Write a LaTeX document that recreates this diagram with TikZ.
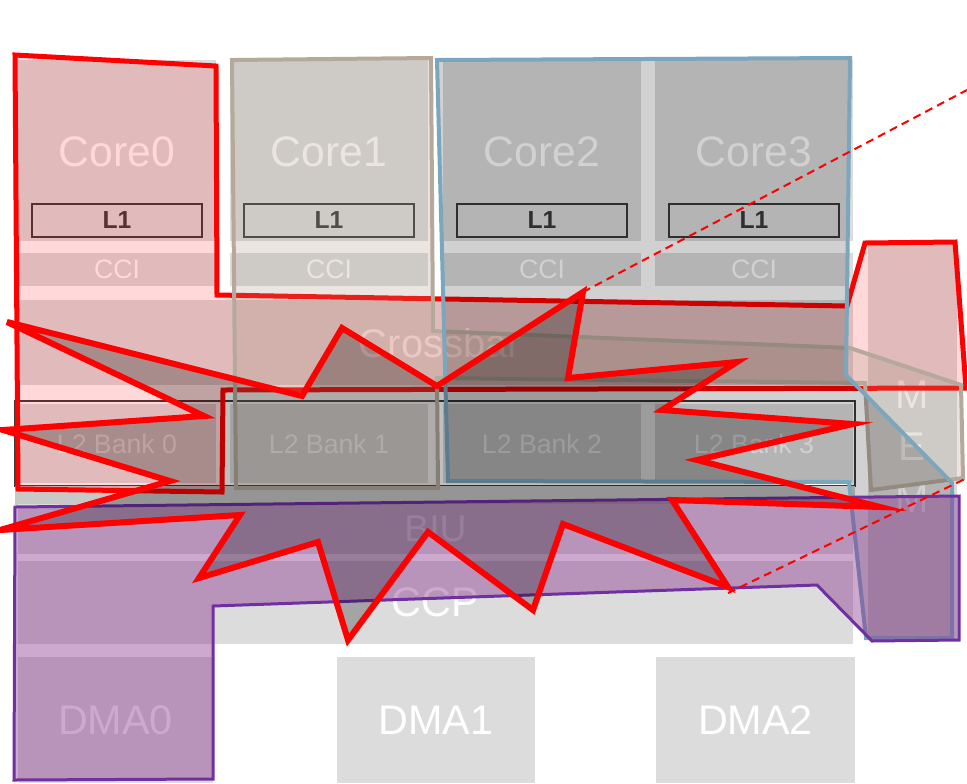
\documentclass[tikz,border=0pt]{standalone}
\usepackage{fontspec}
\setmainfont{Liberation Sans}
\definecolor{blkgray}{HTML}{DCDCDC}
\definecolor{bandgray}{HTML}{C8C8C8}
\definecolor{l1line}{HTML}{3A3A3A}
\definecolor{tanline}{HTML}{B5A99B}
\definecolor{tanfill}{RGB}{160,140,120}
\definecolor{blueline}{HTML}{7AA6BE}
\definecolor{purpline}{HTML}{7030A0}
\definecolor{purpfill}{RGB}{130,40,137}
\begin{document}
\begin{tikzpicture}[x=0.75pt,y=-0.75pt,
  blk/.style={fill=blkgray, draw=none, inner sep=0pt, text=white},
  size/.style n args={2}{minimum width=#1*0.75pt, minimum height=#2*0.75pt},
  coretxt/.style={text=white, inner sep=0pt, font=\fontsize{32}{36}\selectfont},
  l1box/.style={draw=l1line, line width=1.5pt, inner sep=0pt, text=l1line,
    size={170}{33}, font=\bfseries\fontsize{18.5}{20}\selectfont},
  ccitxt/.style={font=\fontsize{20}{24}\selectfont},
  banktxt/.style={font=\fontsize{20}{24}\selectfont},
  dmatxt/.style={font=\fontsize{31}{36}\selectfont},
  redzone/.style={draw=red, line width=3.75pt, fill=red, fill opacity=0.15},
  tanzone/.style={draw=tanline, line width=3pt, fill=tanfill, fill opacity=0.22},
  bluezone/.style={draw=blueline, line width=3pt, fill=black, fill opacity=0.18},
  purpzone/.style={draw=purpline, line width=2.25pt, fill=purpfill, fill opacity=0.4},
  burst/.style={draw=red, line width=4.5pt, fill=black, fill opacity=0.25},
  dashline/.style={draw=red, line width=1.5pt, dash pattern=on 6pt off 4pt}]

\fill[white] (0,0) rectangle (967,783);
\useasboundingbox (0,0) rectangle (967,783);

% cores with their L1 caches and coherence interfaces
\foreach \cx/\i in {117/0,329/1,542/2,754/3}{
  \node[blk, size={198}{181}] (core\i) at (\cx,150.5) {};
  \node[coretxt] (core\i t) at (\cx,152) {Core\i};
  \node[l1box] (l1c\i) at (\cx,220) {L1};
  \node[blk, ccitxt, size={198}{33}] (cci\i) at (\cx,269.5) {CCI};
}

% crossbar
\node[blk, size={835}{85}] (xbar) at (435.5,342.5) {};
\node[text=white, inner sep=0pt, font=\fontsize{30}{36}\selectfont] (xbart) at (440,343) {Crossbar};

% L2 banks in a framed group
\node[size={840}{85}, inner sep=0pt, draw=l1line, line width=1.5pt, fill=white] (l2) at (435,443.5) {};
\foreach \cx/\i in {117/0,329/1,542/2,754/3}{
  \node[blk, banktxt, size={198}{79}] (bank\i) at (\cx,443.5) {L2 Bank \i};
}

% bus interface, coherence port and DMA engines
\node[size={840}{19}, inner sep=0pt, fill=bandgray] (band) at (435,495.5) {};
\node[blk, size={835}{50}, font=\fontsize{28}{32}\selectfont] (biu) at (435.5,528.5) {BIU};
\node[blk, size={835}{83}, font=\fontsize{31}{36}\selectfont] (ccp) at (435.5,602) {CCP};
\node[blk, dmatxt, size={195}{126}] (dma0) at (115.5,720) {DMA0};
\node[blk, dmatxt, size={198}{126}] (dma1) at (436,720) {DMA1};
\node[blk, dmatxt, size={199}{126}] (dma2) at (755.5,720) {DMA2};

% memory column
\node[blk, size={89}{395}] (mem) at (912.5,442.5) {};
\node[text=white, inner sep=0pt, align=center, font=\fontsize{30}{39}\selectfont] (memt) at (912,447) {M\\E\\M};

% highlighted regions
\draw[redzone] (15,55) -- (216,66) -- (217,295) -- (847,306) -- (865,243) -- (955,242)
  -- (966,388) -- (223,390) -- (222,492) -- (18,489) -- cycle;
\draw[tanzone] (232,60) -- (431,58) -- (433,331) -- (850,348) -- (961,385) -- (963,478)
  -- (871,490) -- (865,383) -- (437,378) -- (438,488) -- (236,488) -- cycle;
\draw[bluezone] (437,60) -- (850,58) -- (846,375) -- (952,483) -- (952,638) -- (866,638)
  -- (849,482) -- (448,481) -- cycle;
\draw[purpzone] (15,507) -- (959,496) -- (959,640) -- (872,641) -- (817,585) -- (213,606)
  -- (213,779) -- (14,780) -- cycle;

% conflict burst
\coordinate (s1) at (7,322);    \coordinate (s2) at (302,396);
\coordinate (s3) at (342,328);  \coordinate (s4) at (437,386);
\coordinate (s5) at (583,292);  \coordinate (s6) at (568,378);
\coordinate (s7) at (737,362);  \coordinate (s8) at (662,410);
\coordinate (s9) at (853,424);  \coordinate (s10) at (697,460);
\coordinate (s11) at (880,507); \coordinate (s12) at (672,500);
\coordinate (s13) at (728,587); \coordinate (s14) at (563,524);
\coordinate (s15) at (533,610); \coordinate (s16) at (428,532);
\coordinate (s17) at (348,640); \coordinate (s18) at (318,542);
\coordinate (s19) at (199,578); \coordinate (s20) at (240,515);
\coordinate (s21) at (0,530);   \coordinate (s22) at (170,481);
\coordinate (s23) at (3,430);   \coordinate (s24) at (204,416);
\draw[burst] (s1) -- (s2) -- (s3) -- (s4) -- (s5) -- (s6) -- (s7) -- (s8) -- (s9) -- (s10)
  -- (s11) -- (s12) -- (s13) -- (s14) -- (s15) -- (s16) -- (s17) -- (s18) -- (s19) -- (s20)
  -- (s21) -- (s22) -- (s23) -- (s24) -- cycle;

% callout lines
\coordinate (d1) at (967,90);
\coordinate (d2) at (967,478);
\draw[dashline] (s5) -- (d1);
\draw[dashline] ([yshift=-4.5pt]s13) -- (d2);
\end{tikzpicture}
\end{document}
